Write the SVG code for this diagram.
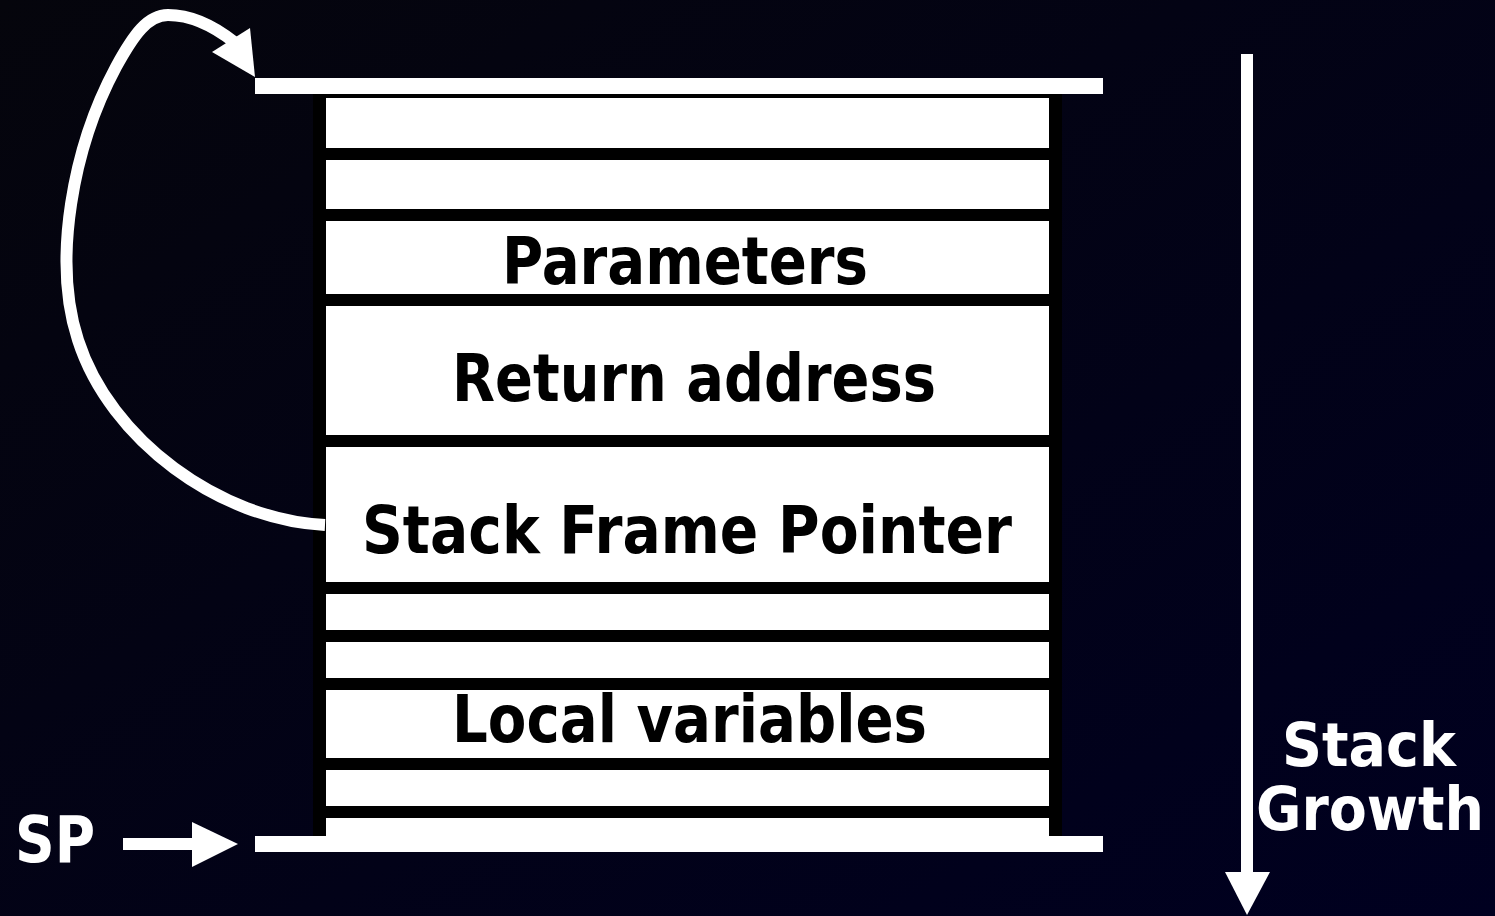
<svg xmlns="http://www.w3.org/2000/svg" width="1495" height="916" viewBox="0 0 1495 916">
  <defs>
    <linearGradient id="bg" x1="0" y1="0" x2="1" y2="1">
      <stop offset="0" stop-color="#05050c"/>
      <stop offset="1" stop-color="#000020"/>
    </linearGradient>
    <style>
      .cell { fill: #ffffff; }
      .bar { fill: #ffffff; }
      .label { font-family: "DejaVu Sans", Verdana, sans-serif; font-weight: bold; font-size: 66px; fill: #000000; }
      .side { font-family: "DejaVu Sans", Verdana, sans-serif; font-weight: bold; fill: #ffffff; }
      .wire { fill: none; stroke: #ffffff; stroke-width: 12; }
      .head { fill: #ffffff; }
    </style>
  </defs>

  <rect x="0" y="0" width="1495" height="916" fill="url(#bg)"/>

  <!-- stack frame body -->
  <g id="stack">
    <rect x="313" y="94" width="749" height="742" fill="#000000"/>
    <rect class="bar" x="255" y="78" width="848" height="16"/>
    <rect class="bar" x="255" y="836" width="848" height="16"/>
  </g>

  <g id="slot1"><rect class="cell" x="326" y="98" width="723" height="50"/></g>
  <g id="slot2"><rect class="cell" x="326" y="160" width="723" height="49"/></g>
  <g id="parameters">
    <rect class="cell" x="326" y="221" width="723" height="73"/>
    <text class="label" x="502" y="284" textLength="366" lengthAdjust="spacingAndGlyphs">Parameters</text>
  </g>
  <g id="return-address">
    <rect class="cell" x="326" y="306" width="723" height="129"/>
    <text class="label" x="452" y="401" textLength="484" lengthAdjust="spacingAndGlyphs">Return address</text>
  </g>
  <g id="frame-pointer">
    <rect class="cell" x="326" y="447" width="723" height="135"/>
    <text class="label" x="362" y="553" textLength="650" lengthAdjust="spacingAndGlyphs">Stack Frame Pointer</text>
  </g>
  <g id="slot6"><rect class="cell" x="326" y="594" width="723" height="36"/></g>
  <g id="slot7"><rect class="cell" x="326" y="642" width="723" height="36"/></g>
  <g id="local-variables">
    <rect class="cell" x="326" y="690" width="723" height="68"/>
    <text class="label" x="452" y="742" textLength="475" lengthAdjust="spacingAndGlyphs">Local variables</text>
  </g>
  <g id="slot9"><rect class="cell" x="326" y="770" width="723" height="36"/></g>
  <g id="slot10"><rect class="cell" x="326" y="818" width="723" height="18"/></g>

  <g id="sp-label">
    <text class="side" x="15" y="862" font-size="64" textLength="80" lengthAdjust="spacingAndGlyphs">SP</text>
  </g>
  <g id="growth-label">
    <text class="side" x="1282" y="766" font-size="60" textLength="174" lengthAdjust="spacingAndGlyphs">Stack</text>
    <text class="side" x="1256" y="830" font-size="60" textLength="228" lengthAdjust="spacingAndGlyphs">Growth</text>
  </g>

  <!-- connectors -->
  <g id="connectors">
    <!-- saved frame pointer back to the previous frame top -->
    <path class="wire" d="M325,525 C220,520 110,440 78,340 C52,260 73,147 116,67 C134,34 148,15 168,15 C192,15 215,27 234,42"/>
    <polygon class="head" points="255,77 250,28 212,52"/>
    <!-- SP pointer -->
    <rect class="head" x="123" y="838" width="70" height="12"/>
    <polygon class="head" points="192,822 238,844 192,867"/>
    <!-- growth direction -->
    <rect class="head" x="1241" y="54" width="12" height="819"/>
    <polygon class="head" points="1225,872 1270,872 1247,915"/>
  </g>
</svg>
